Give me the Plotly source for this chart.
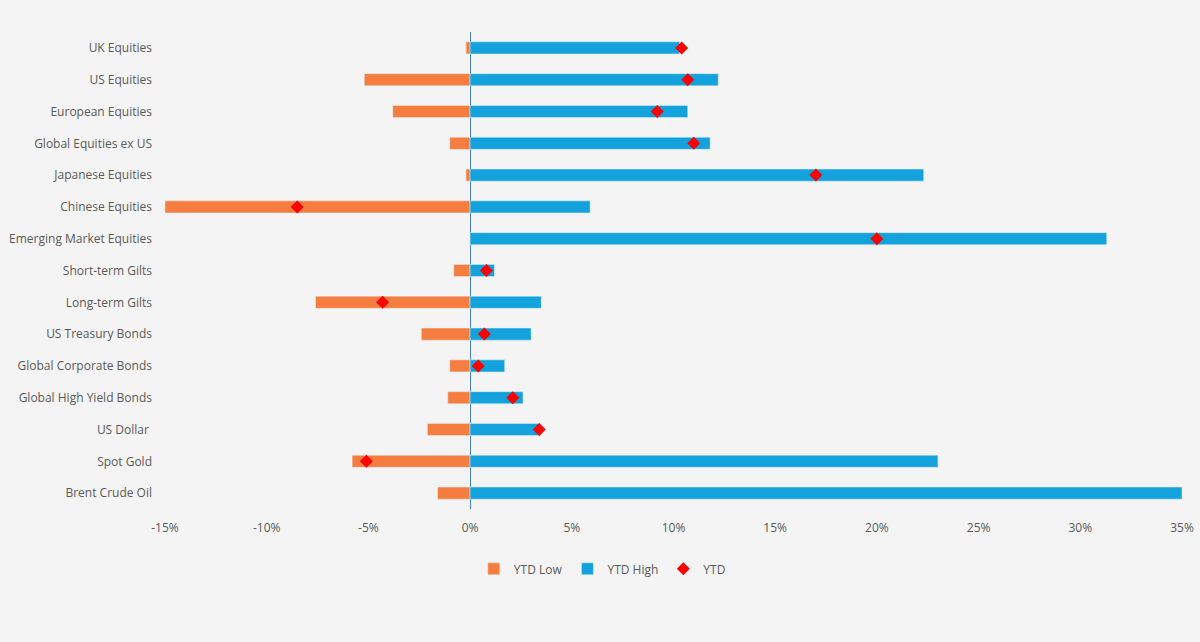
import plotly.graph_objects as go

categories = ["UK Equities","US Equities","European Equities","Global Equities ex US","Japanese Equities",
              "Chinese Equities","Emerging Market Equities","Short-term Gilts","Long-term Gilts",
              "US Treasury Bonds","Global Corporate Bonds","Global High Yield Bonds","US Dollar ",
              "Spot Gold","Brent Crude Oil"]
ytd_low = [-0.2,-5.2,-3.8,-1.0,-0.2,-15.0,0.0,-0.8,-7.6,-2.4,-1.0,-1.1,-2.1,-5.8,-1.6]
ytd_high = [10.3,12.2,10.7,11.8,22.3,5.9,31.3,1.2,3.5,3.0,1.7,2.6,3.4,23.0,35.0]
ytd = [10.4,10.7,9.2,11.0,17.0,-8.5,20.0,0.8,-4.3,0.7,0.4,2.1,3.4,-5.1,None]

tickvals = [-15,-10,-5,0,5,10,15,20,25,30,35]
ticktext = [f"{v}%" for v in tickvals]

fig = go.Figure()
fig.add_bar(y=categories, x=ytd_low, orientation="h", name="YTD Low", marker_color="#F47D3F", width=0.38)
fig.add_bar(y=categories, x=ytd_high, orientation="h", name="YTD High", marker_color="#13A2DC", width=0.38)
fig.add_scatter(y=categories, x=ytd, mode="markers", name="YTD",
                marker=dict(symbol="diamond", color="#FF0000", size=10))
fig.update_layout(
    width=1200, height=642, barmode="relative",
    paper_bgcolor="#F4F4F4", plot_bgcolor="#F4F4F4",
    margin=dict(l=165, r=18, t=32, b=133, autoexpand=False),
    font=dict(family="Open Sans", size=12, color="#595959"),
    showlegend=True,
    legend=dict(orientation="h", x=0.43, xanchor="center", y=-0.095, yanchor="top",
                font=dict(size=12), itemwidth=30, tracegroupgap=0),
    xaxis=dict(range=[-15,35], tickvals=tickvals, ticktext=ticktext, showgrid=False,
               zeroline=True, zerolinecolor="#4A7FD0", zerolinewidth=1, ticks="", automargin=False,
               ticklabelstandoff=10),
    yaxis=dict(range=[len(categories)-0.5, -0.5], showgrid=False, ticks="", automargin=False,
               ticklabelstandoff=12),
)
fig.write_html("out.html", config={"displayModeBar": False},
               post_script="document.body.style.margin='0';document.body.style.background='#F4F4F4';")
